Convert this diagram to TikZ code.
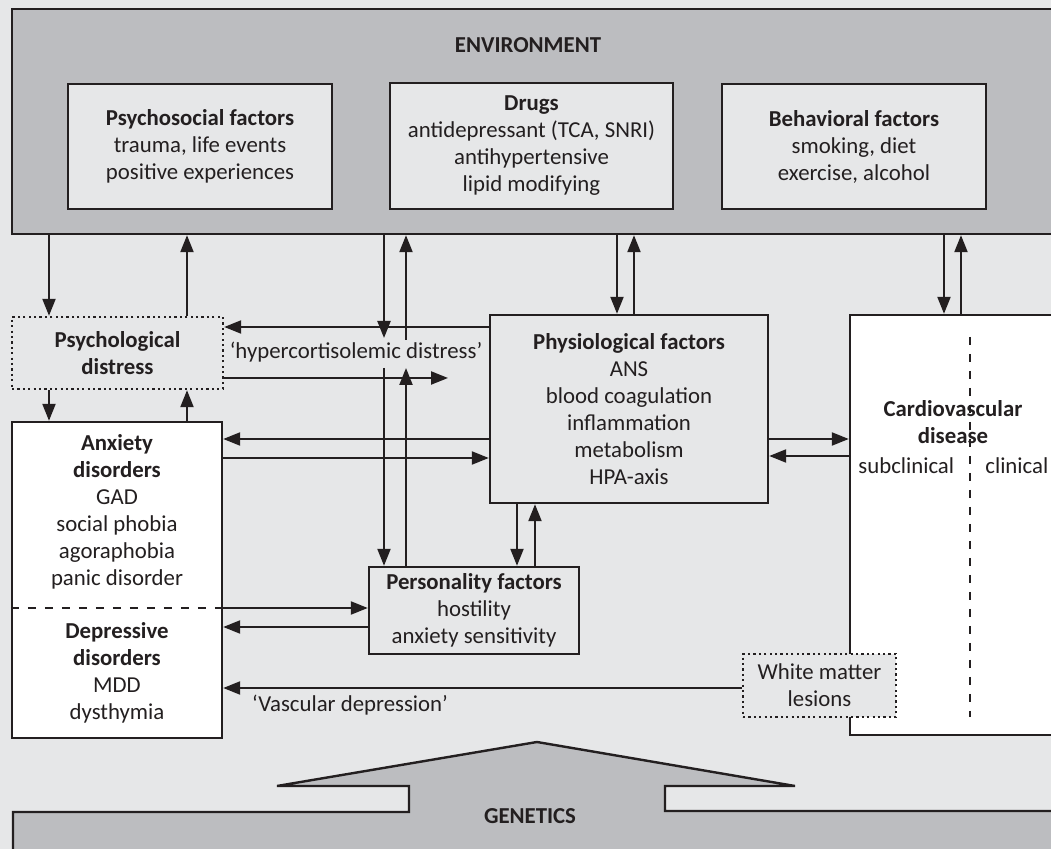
\documentclass[tikz,border=0pt]{standalone}
\usepackage{fontspec}
\setmainfont{Carlito}
\usetikzlibrary{arrows.meta,positioning,calc}
\definecolor{bggray}{HTML}{E6E7E8}
\definecolor{envgray}{HTML}{BCBDC0}
\definecolor{ink}{HTML}{231F20}

\tikzset{
  frame/.style={draw=ink,line width=1.2pt,inner sep=0pt,align=center},
  envbox/.style={frame,fill=envgray},
  inbox/.style={frame,fill=bggray},
  whitebox/.style={frame,fill=white},
  dotbox/.style={frame,fill=bggray,dash pattern=on 1.1pt off 1.6pt},
  lines/.style={align=center,inner sep=0pt},
  arr/.style={draw=ink,line width=1.1pt,-{Triangle[length=8.5pt,width=6.5pt]}},
  splitline/.style={draw=ink,line width=1.1pt,dash pattern=on 4pt off 4.5pt},
}

\begin{document}
\begin{tikzpicture}[x=0.5pt,y=-0.5pt,font=\fontsize{11.4}{13.5}\selectfont,text=ink]
  \useasboundingbox (0,0) rectangle (1051,849);
  \clip (0,0) rectangle (1051,849);
  \fill[bggray] (0,0) rectangle (1051,849);

  % environment
  \node[envbox,minimum width=529pt,minimum height=112.5pt] (env) at (541,121.5) {};
  \node (envlbl) at (528,45) {\textbf{ENVIRONMENT}};
  \node[inbox,minimum width=132pt,minimum height=62.5pt] (psy) at (200,146.5)
    {\textbf{Psychosocial factors}\\trauma, life events\\positive experiences};
  \node[inbox,minimum width=141.5pt,minimum height=63pt] (drugs) at (531.5,146)
    {\textbf{Drugs}\\antidepressant (TCA, SNRI)\\antihypertensive\\lipid modifying};
  \node[inbox,minimum width=132pt,minimum height=62.5pt] (behav) at (854,146.5)
    {\textbf{Behavioral factors}\\smoking, diet\\exercise, alcohol};

  % genetics
  \filldraw[fill=envgray,draw=ink,line width=1.2pt]
    (13,870) -- (13,812) -- (409,812) -- (409,786) -- (277,786) -- (537,742)
    -- (795,786) -- (665,786) -- (665,811) -- (1070,811) -- (1070,870) -- cycle;
  \node (genlbl) at (530,816) {\textbf{GENETICS}};

  % boxes
  \node[dotbox,minimum width=105.5pt,minimum height=36pt] (psyd) at (117.5,353)
    {\textbf{Psychological}\\\textbf{distress}};
  \node[whitebox,minimum width=105pt,minimum height=158pt] (anx) at (117,580) {};
  \node[lines] (anxtxt) at (117,512)
    {\textbf{Anxiety}\\\textbf{disorders}\\GAD\\social phobia\\agoraphobia\\panic disorder};
  \node[lines] (deptxt) at (117,672.5)
    {\textbf{Depressive}\\\textbf{disorders}\\MDD\\dysthymia};
  \node[inbox,minimum width=139pt,minimum height=94pt] (physio) at (629,409)
    {\textbf{Physiological factors}\\ANS\\blood coagulation\\inflammation\\metabolism\\HPA-axis};
  \node[inbox,minimum width=105pt,minimum height=43.5pt] (pers) at (474,610.5)
    {\textbf{Personality factors}\\hostility\\anxiety sensitivity};
  \node[whitebox,minimum width=110pt,minimum height=210pt] (cvd) at (960,525) {};
  \node[lines] (cvdtxt) at (953,422.5) {\textbf{Cardiovascular}\\\textbf{disease}};
  \node[anchor=west,inner sep=0pt] (subcl) at (858,466) {subclinical};
  \node[anchor=west,inner sep=0pt] (clin) at (985,466) {clinical};
  \coordinate (cvdtop) at (970,337);
  \coordinate (cvdbot) at (970,717);
  \draw[splitline] (cvdtop) -- (cvdbot);
  \node[dotbox,minimum width=76.5pt,minimum height=31.5pt] (wml) at (819.5,685.5)
    {White matter\\lesions};

  % split of the disorders box
  \coordinate (anxdiv) at (117,608);
  \draw[splitline] (anx.west |- anxdiv) -- (anx.east |- anxdiv);

  % columns and rows of the connectors
  \coordinate (ca) at (49,0);
  \coordinate (cb) at (187,0);
  \coordinate (cc) at (384,0);
  \coordinate (cd) at (406,0);
  \coordinate (ce) at (617,0);
  \coordinate (cf) at (634,0);
  \coordinate (cg) at (944,0);
  \coordinate (ch) at (961,0);
  \coordinate (ci) at (517,0);
  \coordinate (cj) at (535,0);
  \coordinate (hcA) at (384,338);
  \coordinate (hcB) at (384,368);
  \coordinate (hcC) at (406,368);
  \coordinate (hcD) at (406,340);
  \coordinate (hcEnd) at (448,378);
  \coordinate (ra) at (0,327);
  \coordinate (rb) at (0,439);
  \coordinate (rc) at (0,458);
  \coordinate (rd) at (0,456);
  \coordinate (re) at (0,627);
  \coordinate (rf) at (0,688);

  % connectors
  \draw[arr] (ca |- env.south) -- (ca |- psyd.north);
  \draw[arr] (cb |- psyd.north) -- (cb |- env.south);
  \draw[arr] (ca |- psyd.south) -- (ca |- anx.north);
  \draw[arr] (cb |- anx.north) -- (cb |- psyd.south);
  \draw[arr] (physio.west |- ra) -- (psyd.east |- ra);
  \draw[arr] (psyd.east |- hcEnd) -- (hcEnd);
  \draw[arr] (cc |- env.south) -- (hcA);
  \draw[arr] (hcB) -- (cc |- pers.north);
  \draw[arr] (cd |- pers.north) -- (hcC);
  \draw[arr] (hcD) -- (cd |- env.south);
  \draw[arr] (ce |- env.south) -- (ce |- physio.north);
  \draw[arr] (cf |- physio.north) -- (cf |- env.south);
  \draw[arr] (cg |- env.south) -- (cg |- cvd.north);
  \draw[arr] (ch |- cvd.north) -- (ch |- env.south);
  \draw[arr] (physio.west |- rb) -- (anx.east |- rb);
  \draw[arr] (anx.east |- rc) -- (physio.west |- rc);
  \draw[arr] (physio.east |- rb) -- (cvd.west |- rb);
  \draw[arr] (cvd.west |- rd) -- (physio.east |- rd);
  \draw[arr] (ci |- physio.south) -- (ci |- pers.north);
  \draw[arr] (cj |- pers.north) -- (cj |- physio.south);
  \draw[arr] (anx.east |- anxdiv) -- (pers.west |- anxdiv);
  \draw[arr] (pers.west |- re) -- (anx.east |- re);
  \draw[arr] (wml.west |- rf) -- (anx.east |- rf);

  \node (hclbl) at (356,352) {‘hypercortisolemic distress’};
  \node (vdlbl) at (350,705) {‘Vascular depression’};
\end{tikzpicture}
\end{document}
